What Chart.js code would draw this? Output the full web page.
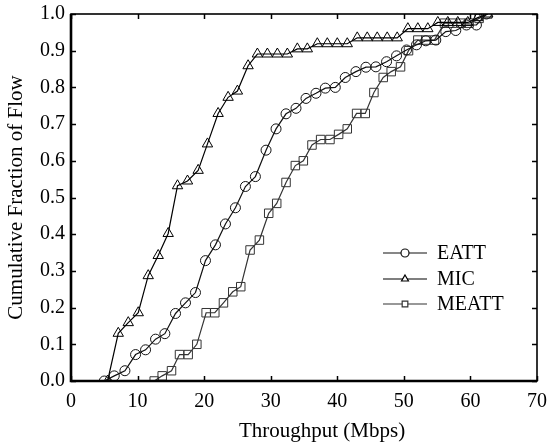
<!DOCTYPE html>
<html>
<head>
<meta charset="utf-8">
<script src="https://cdn.jsdelivr.net/npm/chart.js@4/dist/chart.umd.min.js"></script>
<style>
  html, body { margin: 0; padding: 0; background: #fff; }
  #wrap { width: 549px; height: 445px; }
</style>
</head>
<body>
<div id="wrap"><canvas id="cdf"></canvas></div>
<script>
// values
const eattX = [5.0, 6.5, 8.1, 9.7, 11.2, 12.7, 14.1, 15.7, 17.2, 18.7, 20.2, 21.7, 23.2, 24.7, 26.2, 27.7, 29.3, 30.8, 32.3, 33.8,
    35.3, 36.8, 38.2, 39.7, 41.2, 42.8, 44.3, 45.8, 47.4, 48.9, 50.4, 51.9, 53.3, 54.8, 56.3, 57.8, 59.4, 60.9, 62.4];
const eattY = [0.0, 0.014, 0.028, 0.072, 0.085, 0.114, 0.129, 0.184, 0.213, 0.241, 0.328, 0.371, 0.428, 0.472, 0.530, 0.557, 0.629, 0.687, 0.728, 0.743,
    0.770, 0.784, 0.798, 0.800, 0.827, 0.843, 0.855, 0.856, 0.870, 0.886, 0.902, 0.916, 0.927, 0.929, 0.952, 0.955, 0.970, 0.970, 1.0];

const micX = [5.5, 7.1, 8.6, 10.1, 11.6, 13.1, 14.6, 16.0, 17.5, 19.1, 20.5, 22.1, 23.6, 25.0, 26.6, 28.0, 29.5, 31.0, 32.5, 34.0,
    35.5, 37.0, 38.5, 40.0, 41.5, 43.0, 44.5, 46.0, 47.5, 49.0, 50.6, 52.1, 53.6, 55.1, 56.6, 58.1, 59.6, 61.1, 62.6];
const micY = [0.0, 0.130, 0.159, 0.186, 0.287, 0.342, 0.402, 0.532, 0.545, 0.574, 0.646, 0.729, 0.773, 0.790, 0.859, 0.891, 0.891, 0.891, 0.891, 0.905,
    0.905, 0.919, 0.919, 0.919, 0.919, 0.935, 0.935, 0.935, 0.935, 0.935, 0.960, 0.960, 0.960, 0.977, 0.977, 0.977, 0.977, 0.990, 1.0];

const meattX = [12.5, 13.7, 15.1, 16.3, 17.6, 18.9, 20.3, 21.6, 22.9, 24.3, 25.5, 26.9, 28.3, 29.7, 30.9, 32.3, 33.7, 34.9, 36.2, 37.5,
    38.9, 40.2, 41.5, 42.9, 44.2, 45.5, 46.9, 48.1, 49.5, 50.7, 52.1, 53.3, 54.6, 56.1, 57.3, 58.6, 59.8, 61.3, 62.6];
const meattY = [0.0, 0.014, 0.028, 0.072, 0.072, 0.100, 0.186, 0.186, 0.213, 0.243, 0.257, 0.357, 0.384, 0.457, 0.484, 0.541, 0.587, 0.600, 0.643, 0.658,
    0.658, 0.672, 0.687, 0.729, 0.729, 0.786, 0.827, 0.843, 0.856, 0.900, 0.929, 0.929, 0.929, 0.975, 0.975, 0.975, 0.975, 0.988, 1.0];

const xTicks = [0, 10, 20, 30, 40, 50, 60, 70];
const yTicks = [0.0, 0.1, 0.2, 0.3, 0.4, 0.5, 0.6, 0.7, 0.8, 0.9, 1.0];

const xTitle = 'Throughput (Mbps)';
const yTitle = 'Cumulative Fraction of Flow';

const FONT = '"Liberation Serif", "Times New Roman", serif';

function toPoints(xs, ys) {
    return xs.map((x, i) => ({ x: x, y: ys[i] }));
}

// рамка, засечки внутрь, подпись оси X и легенда
const framePlugin = {
    id: 'frame',
    afterDraw(chart) {
        const ctx = chart.ctx;
        const a = chart.chartArea;
        const sx = chart.scales.x, sy = chart.scales.y;
        ctx.save();
        ctx.strokeStyle = '#000';
        ctx.lineWidth = 1.5;
        ctx.beginPath();
        xTicks.forEach(v => {
            const px = Math.round(sx.getPixelForValue(v)) + 0.5;
            ctx.moveTo(px, a.bottom); ctx.lineTo(px, a.bottom - 5);
            ctx.moveTo(px, a.top); ctx.lineTo(px, a.top + 5);
        });
        yTicks.forEach(v => {
            const py = Math.round(sy.getPixelForValue(v)) + 0.5;
            ctx.moveTo(a.left, py); ctx.lineTo(a.left + 5, py);
            ctx.moveTo(a.right, py); ctx.lineTo(a.right - 5, py);
        });
        ctx.stroke();
        ctx.lineWidth = 1.6;
        ctx.strokeRect(a.left, a.top, a.right - a.left, a.bottom - a.top);
        ctx.lineWidth = 2.6;
        ctx.beginPath();
        ctx.moveTo(a.left, a.top); ctx.lineTo(a.left, a.bottom); ctx.lineTo(a.right, a.bottom);
        ctx.stroke();

        // подпись оси X (в оригинале сдвинута вправо от центра)
        ctx.fillStyle = '#000';
        ctx.font = '21px ' + FONT;
        ctx.textAlign = 'center';
        ctx.textBaseline = 'middle';
        ctx.fillText(xTitle, 322, 431);

        // легенда
        const rows = [253, 279, 304];
        chart.data.datasets.forEach((ds, i) => {
            const y = rows[i];
            ctx.strokeStyle = ds.borderColor;
            ctx.lineWidth = 1.2;
            ctx.beginPath();
            ctx.moveTo(383, y); ctx.lineTo(427, y);
            ctx.stroke();
            ctx.fillStyle = '#fff';
            Chart.helpers.drawPoint(ctx, {
                pointStyle: ds.pointStyle, radius: 4, borderWidth: 1
            }, 405, y);
            ctx.fillStyle = '#000';
            ctx.font = '20px ' + FONT;
            ctx.textBaseline = 'middle';
            ctx.textAlign = 'left';
            ctx.fillText(ds.label, 437, y + 1);
        });
        ctx.restore();
    }
};

const common = {
    showLine: true,
    fill: false,
    borderWidth: 1.2,
    pointBorderWidth: 1,
    pointBackgroundColor: 'rgba(0,0,0,0)',
    tension: 0
};

new Chart(document.getElementById('cdf'), {
    type: 'scatter',
    data: {
        datasets: [
            Object.assign({}, common, {
                label: 'EATT', data: toPoints(eattX, eattY),
                borderColor: '#111', pointBorderColor: '#111', pointStyle: 'circle', pointRadius: 5
            }),
            Object.assign({}, common, {
                label: 'MIC', data: toPoints(micX, micY),
                borderColor: '#000', pointBorderColor: '#000', pointStyle: 'triangle', pointRadius: 6
            }),
            Object.assign({}, common, {
                label: 'MEATT', data: toPoints(meattX, meattY),
                borderColor: '#333', pointBorderColor: '#333', pointStyle: 'rect', pointRadius: 6
            })
        ]
    },
    options: {
        responsive: true,
        maintainAspectRatio: false,
        animation: false,
        layout: { padding: { top: 14, right: 12, left: 0, bottom: 0 } },
        plugins: {
            legend: { display: false },
            tooltip: { enabled: false }
        },
        scales: {
            x: {
                type: 'linear', min: 0, max: 70,
                afterFit(scale) {
                    scale.height = 64;
                    scale.paddingLeft = 0;
                    scale.paddingRight = 0;
                },
                grid: { display: false, drawTicks: false },
                border: { display: false },
                ticks: {
                    stepSize: 10, padding: 9, color: '#000',
                    font: { family: FONT, size: 20 }
                },
                title: { display: false }
            },
            y: {
                type: 'linear', min: 0, max: 1,
                afterFit(scale) {
                    scale.width = 71;
                    scale.paddingTop = 0;
                    scale.paddingBottom = 0;
                },
                grid: { display: false, drawTicks: false },
                border: { display: false },
                ticks: {
                    stepSize: 0.1, padding: 6, color: '#000',
                    font: { family: FONT, size: 20 },
                    callback: v => Number(v).toFixed(1)
                },
                title: {
                    display: true, text: yTitle, color: '#000',
                    font: { family: FONT, size: 21 }, padding: { top: 4, bottom: 0 }
                }
            }
        }
    },
    plugins: [framePlugin]
});
</script>
</body>
</html>
